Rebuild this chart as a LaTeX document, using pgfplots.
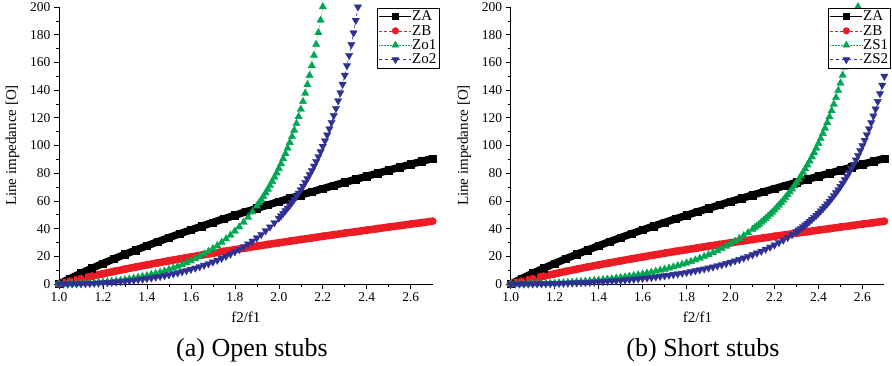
\documentclass[border=0pt]{standalone}
\usepackage{fontspec}
\setmainfont{Liberation Serif}
\usepackage{pgfplots}
\usepackage{pgfplotstable}
\pgfplotsset{compat=1.18}
\definecolor{cR}{RGB}{237,28,36}
\definecolor{cG}{RGB}{0,166,81}
\definecolor{cB}{RGB}{46,49,146}

\pgfplotstableread{
r ZA ZB
1.00 0 0
1.05 3.94 1.98
1.10 7.71 3.86
1.15 11.33 5.67
1.20 14.81 7.40
1.25 18.16 9.08
1.30 21.40 10.70
1.35 24.54 12.28
1.40 27.60 13.80
1.45 30.57 15.29
1.50 33.46 16.74
1.55 36.30 18.15
1.60 39.07 19.53
1.65 41.78 20.89
1.70 44.43 22.22
1.75 47.05 23.53
1.80 49.60 24.80
1.85 52.13 26.06
1.90 54.61 27.31
1.95 57.05 28.53
2.00 59.47 29.74
2.05 61.85 30.92
2.10 64.20 32.11
2.15 66.52 33.26
2.20 68.82 34.41
2.25 71.10 35.56
2.30 73.36 36.68
2.35 75.58 37.79
2.40 77.79 38.89
2.45 79.97 39.98
2.50 82.14 41.08
2.55 84.31 42.15
2.60 86.44 43.22
2.65 88.56 44.28
2.70 90.66 45.33
}\tabAB

\pgfplotstableread{
r z
1.00 0
1.02 0.01
1.04 0.05
1.06 0.10
1.08 0.19
1.10 0.30
1.12 0.44
1.14 0.60
1.16 0.80
1.18 1.02
1.20 1.28
1.22 1.58
1.24 1.91
1.26 2.27
1.28 2.68
1.30 3.13
1.32 3.62
1.34 4.16
1.36 4.74
1.38 5.38
1.40 6.07
1.42 6.81
1.44 7.62
1.46 8.48
1.48 9.42
1.50 10.43
1.52 11.51
1.54 12.67
1.56 13.91
1.58 15.25
1.60 16.68
1.62 18.22
1.64 19.86
1.66 21.62
1.68 23.52
1.70 25.54
1.72 27.71
1.74 30.05
1.76 32.55
1.78 35.24
1.80 38.13
1.82 41.23
1.84 44.58
1.86 48.19
1.88 52.09
1.90 56.30
1.91 58.53
1.92 60.85
1.93 63.27
1.94 65.80
1.95 68.43
1.96 71.17
1.97 74.03
1.98 77.02
1.99 80.14
2.00 83.40
2.01 86.81
2.02 90.39
2.03 94.13
2.04 98.05
2.05 102.17
2.06 106.49
2.07 111.03
2.08 115.81
2.09 120.84
2.10 126.14
2.11 131.74
2.12 137.65
2.13 143.91
2.14 150.54
2.15 157.57
2.16 165.03
2.17 172.98
2.18 181.45
2.19 190.49
2.20 200.16
}\tabOa

\pgfplotstableread{
r z
1.00 0
1.02 0.01
1.04 0.03
1.06 0.07
1.08 0.13
1.10 0.20
1.12 0.29
1.14 0.40
1.16 0.53
1.18 0.68
1.20 0.85
1.22 1.04
1.24 1.25
1.26 1.49
1.28 1.76
1.30 2.05
1.32 2.36
1.34 2.71
1.36 3.08
1.38 3.49
1.40 3.93
1.42 4.40
1.44 4.91
1.46 5.46
1.48 6.05
1.50 6.68
1.52 7.35
1.54 8.07
1.56 8.84
1.58 9.66
1.60 10.54
1.62 11.47
1.64 12.47
1.66 13.53
1.68 14.66
1.70 15.87
1.72 17.15
1.74 18.52
1.76 19.97
1.78 21.53
1.80 23.18
1.82 24.95
1.84 26.83
1.86 28.85
1.88 31.00
1.90 33.30
1.92 35.76
1.94 38.39
1.96 41.22
1.98 44.25
2.00 47.51
2.01 49.23
2.02 51.02
2.03 52.87
2.04 54.80
2.05 56.80
2.06 58.88
2.07 61.05
2.08 63.30
2.09 65.65
2.10 68.09
2.11 70.64
2.12 73.29
2.13 76.07
2.14 78.96
2.15 81.98
2.16 85.15
2.17 88.46
2.18 91.92
2.19 95.56
2.20 99.37
2.21 103.37
2.22 107.57
2.23 112.00
2.24 116.66
2.25 121.57
2.26 126.76
2.27 132.24
2.28 138.04
2.29 144.19
2.30 150.72
2.31 157.65
2.32 165.04
2.33 172.92
2.34 181.34
2.35 190.36
2.36 200.05
}\tabOb

\pgfplotstableread{
r z
1.00 0
1.02 0.01
1.04 0.02
1.06 0.05
1.08 0.09
1.10 0.15
1.12 0.21
1.14 0.29
1.16 0.39
1.18 0.49
1.20 0.62
1.22 0.75
1.24 0.91
1.26 1.08
1.28 1.27
1.30 1.47
1.32 1.70
1.34 1.94
1.36 2.20
1.38 2.49
1.40 2.79
1.42 3.12
1.44 3.47
1.46 3.84
1.48 4.24
1.50 4.67
1.52 5.12
1.54 5.61
1.56 6.12
1.58 6.66
1.60 7.24
1.62 7.85
1.64 8.50
1.66 9.18
1.68 9.90
1.70 10.67
1.72 11.48
1.74 12.33
1.76 13.23
1.78 14.19
1.80 15.19
1.82 16.25
1.84 17.38
1.86 18.56
1.88 19.81
1.90 21.13
1.92 22.53
1.94 24.01
1.96 25.57
1.98 27.22
2.00 28.97
2.02 30.81
2.04 32.77
2.06 34.85
2.08 37.05
2.10 39.39
2.11 40.61
2.12 41.87
2.13 43.17
2.14 44.51
2.15 45.89
2.16 47.31
2.17 48.78
2.18 50.30
2.19 51.87
2.20 53.49
2.21 55.17
2.22 56.90
2.23 58.69
2.24 60.54
2.25 62.45
2.26 64.44
2.27 66.49
2.28 68.62
2.29 70.82
2.30 73.10
2.31 75.47
2.32 77.93
2.33 80.49
2.34 83.14
2.35 85.90
2.36 88.77
2.37 91.75
2.38 94.86
2.39 98.10
2.40 101.47
2.41 104.99
2.42 108.67
2.43 112.51
2.44 116.53
2.45 120.73
2.46 125.14
2.47 129.75
2.48 134.60
2.49 139.69
2.50 145.04
2.51 150.67
2.52 156.61
2.53 162.87
2.54 169.49
2.55 176.50
2.56 183.92
2.57 191.80
2.58 200.17
}\tabSa

\pgfplotstableread{
r z
1.00 0
1.02 0.00
1.04 0.01
1.06 0.03
1.08 0.05
1.10 0.08
1.12 0.12
1.14 0.17
1.16 0.22
1.18 0.28
1.20 0.35
1.22 0.43
1.24 0.51
1.26 0.61
1.28 0.72
1.30 0.83
1.32 0.96
1.34 1.09
1.36 1.24
1.38 1.40
1.40 1.57
1.42 1.75
1.44 1.95
1.46 2.16
1.48 2.38
1.50 2.62
1.52 2.87
1.54 3.14
1.56 3.42
1.58 3.72
1.60 4.04
1.62 4.37
1.64 4.73
1.66 5.10
1.68 5.50
1.70 5.92
1.72 6.36
1.74 6.82
1.76 7.31
1.78 7.83
1.80 8.37
1.82 8.94
1.84 9.54
1.86 10.18
1.88 10.85
1.90 11.55
1.92 12.29
1.94 13.08
1.96 13.90
1.98 14.77
2.00 15.68
2.02 16.65
2.04 17.67
2.06 18.74
2.08 19.88
2.10 21.08
2.12 22.35
2.14 23.69
2.16 25.11
2.18 26.61
2.20 28.21
2.22 29.90
2.24 31.70
2.26 33.61
2.28 35.65
2.30 37.82
2.31 38.95
2.32 40.13
2.33 41.34
2.34 42.60
2.35 43.90
2.36 45.25
2.37 46.64
2.38 48.08
2.39 49.58
2.40 51.13
2.41 52.74
2.42 54.41
2.43 56.14
2.44 57.94
2.45 59.81
2.46 61.75
2.47 63.77
2.48 65.88
2.49 68.07
2.50 70.36
2.51 72.75
2.52 75.24
2.53 77.85
2.54 80.57
2.55 83.43
2.56 86.41
2.57 89.55
2.58 92.83
2.59 96.29
2.60 99.92
2.61 103.75
2.62 107.79
2.63 112.05
2.64 116.55
2.65 121.32
2.66 126.37
2.67 131.74
2.68 137.45
2.69 143.54
2.70 150.03
}\tabSb

\pgfplotsset{
  stubaxis/.style={
    scale only axis, width=373.7pt, height=277pt,
    anchor=south west,
    xmin=1, xmax=2.7, ymin=0, ymax=200,
    axis x line*=bottom, axis y line*=left,
    axis line style={line width=0.6pt},
    xtick={1.0,1.2,...,2.61}, minor x tick num=1,
    ytick={0,20,...,200}, minor y tick num=1,
    tick align=outside,
    major tick length=5pt, minor tick length=3pt,
    every tick/.style={black, line width=0.6pt},
    xticklabel style={/pgf/number format/fixed,/pgf/number format/precision=1,/pgf/number format/fixed zerofill},
    /pgf/number format/assume math mode=true,
    ticklabel style={font=\fontsize{13.5}{15}\selectfont},
    label style={font=\fontsize{15}{17}\selectfont},
    xlabel={f2/f1}, ylabel={Line impedance [O]},
    ylabel style={yshift=4pt},
    xlabel style={yshift=-3pt},
    clip=false,
    legend style={at={(1,1)}, anchor=north east, xshift=6.5pt, yshift=-1pt,
      draw=black, line width=0.6pt, fill=white,
      font=\fontsize{15}{16}\selectfont, inner sep=2pt, row sep=2pt,
      nodes={inner sep=0.5pt}},
    legend cell align=left,
    legend image code/.code={\draw[mark repeat=2,mark phase=2,#1] plot coordinates {(0pt,0pt) (16pt,0pt) (32pt,0pt)};},
  },
  bandA/.style={black, line width=7.5pt, mark=square*, mark size=3.7pt, mark options={solid, line width=0.4pt}, forget plot},
  bandB/.style={cR, line width=7.5pt, mark=*, mark size=3.7pt, mark options={solid, line width=0.4pt}, forget plot},
  triG/.style={cG, densely dotted, line width=0.6pt, mark=triangle*, mark size=4.3pt, mark options={solid, line width=0.3pt}, forget plot},
  triB/.style={cB, dashed, line width=0.6pt, mark=triangle*, mark size=4.3pt, mark options={solid, rotate=180, line width=0.3pt}, forget plot},
}

\begin{document}
\begin{tikzpicture}
\path[use as bounding box] (0pt,0pt) rectangle (892pt,366pt);

\begin{axis}[stubaxis, at={(59pt,82pt)}]
\addplot[bandA] table[x=r,y=ZA]{\tabAB};
\addplot[bandB] table[x=r,y=ZB]{\tabAB};
\addplot[triG] table[x=r,y=z]{\tabOa};
\addplot[triB] table[x=r,y=z]{\tabOb};
\addlegendimage{black, line width=0.5pt, mark=square*, mark size=3pt}
\addlegendentry{ZA}
\addlegendimage{cR, densely dashed, line width=0.5pt, mark=*, mark size=3.3pt, mark options={solid}}
\addlegendentry{ZB}
\addlegendimage{cG, densely dotted, line width=0.5pt, mark=triangle*, mark size=4pt, mark options={solid}}
\addlegendentry{Zo1}
\addlegendimage{cB, dashed, line width=0.5pt, mark=triangle*, mark size=4pt, mark options={solid, rotate=180}}
\addlegendentry{Zo2}
\end{axis}

\begin{axis}[stubaxis, at={(510.7pt,82pt)}]
\addplot[bandA] table[x=r,y=ZA]{\tabAB};
\addplot[bandB] table[x=r,y=ZB]{\tabAB};
\addplot[triG] table[x=r,y=z]{\tabSa};
\addplot[triB] table[x=r,y=z]{\tabSb};
\addlegendimage{black, line width=0.5pt, mark=square*, mark size=3pt}
\addlegendentry{ZA}
\addlegendimage{cR, densely dashed, line width=0.5pt, mark=*, mark size=3.3pt, mark options={solid}}
\addlegendentry{ZB}
\addlegendimage{cG, densely dotted, line width=0.5pt, mark=triangle*, mark size=4pt, mark options={solid}}
\addlegendentry{ZS1}
\addlegendimage{cB, dashed, line width=0.5pt, mark=triangle*, mark size=4pt, mark options={solid, rotate=180}}
\addlegendentry{ZS2}
\end{axis}

\node[font=\fontsize{26}{30}\selectfont] at (252pt,16pt) {(a) Open stubs};
\node[font=\fontsize{26}{30}\selectfont] at (703pt,16pt) {(b) Short stubs};
\end{tikzpicture}
\end{document}
